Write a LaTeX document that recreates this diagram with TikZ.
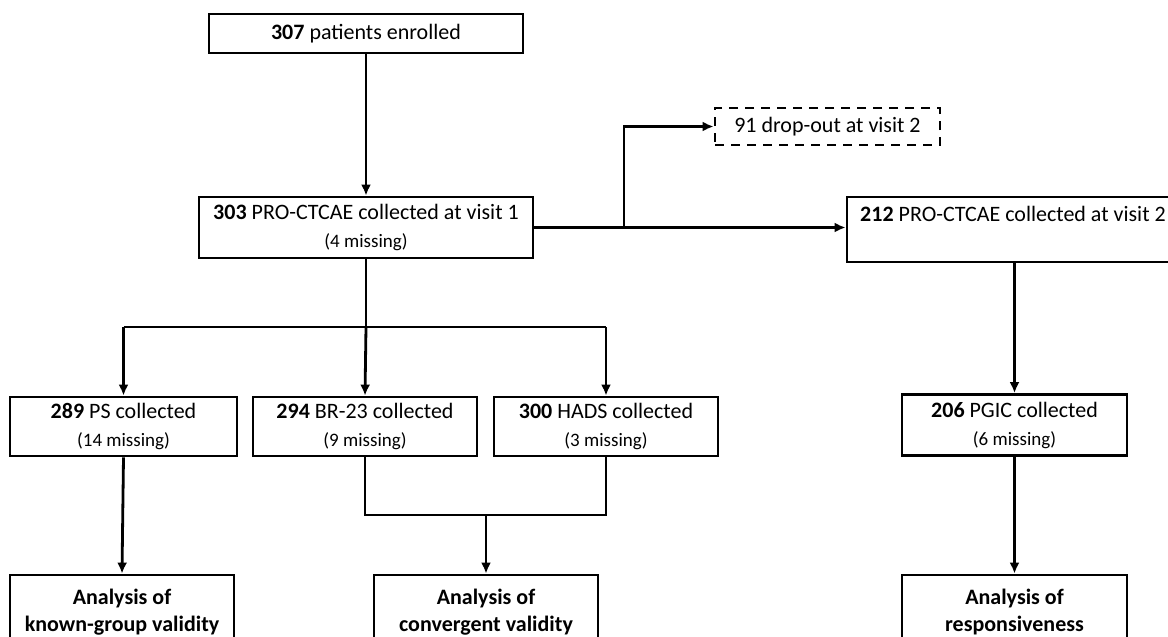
\documentclass[tikz,border=0pt]{standalone}
\usepackage{fontspec}
\setmainfont{Carlito}
\usetikzlibrary{arrows.meta}
\newcommand{\sm}[1]{{\fontsize{19}{28}\selectfont #1}}
\begin{document}
\begin{tikzpicture}[x=1pt,y=-1pt,
  box/.style={draw, line width=2.8pt, inner sep=0pt, align=center,
    font=\fontsize{22}{28}\selectfont},
  dbox/.style={box, dash pattern=on 9pt off 7pt},
  bbox/.style={box, font=\bfseries\fontsize{22}{27}\selectfont},
  conn/.style={line width=2.8pt},
  arr/.style={conn, -{Latex[length=11pt,width=10pt]}}]
\useasboundingbox (0,0) rectangle (1168,637);
\clip (0,0) rectangle (1168,637);
\fill[white] (0,0) rectangle (1168,637);

\node[box, minimum width=314pt, minimum height=39pt] (top) at (366,33.5) {\textbf{307} patients enrolled};
\node[box, minimum width=334pt, minimum height=61pt] (v1) at (366,227.5) {\textbf{303} PRO-CTCAE collected at visit 1\\\sm{(4 missing)}};
\node[box, minimum width=332pt, minimum height=65pt] (v2) at (1013,229.5) {\textbf{212} PRO-CTCAE collected at visit 2\\\sm{\phantom{(4 missing)}}};
\node[dbox, minimum width=225pt, minimum height=37pt] (drop) at (827.5,126.5) {91 drop-out at visit 2};

\node[box, minimum width=227pt, minimum height=59pt] (ps) at (123.5,426.5) {\textbf{289} PS collected\\\sm{(14 missing)}};
\node[box, minimum width=224pt, minimum height=59pt] (br) at (365,426.5) {\textbf{294} BR-23 collected\\\sm{(9 missing)}};
\node[box, minimum width=224pt, minimum height=59pt] (hads) at (606,426.5) {\textbf{300} HADS collected\\\sm{(3 missing)}};
\node[box, minimum width=225pt, minimum height=61pt] (pgic) at (1014.5,425) {\textbf{206} PGIC collected\\\sm{(6 missing)}};

\node[bbox, minimum width=224pt, minimum height=74pt] (an1) at (122,612) {Analysis of\\known-group validity};
\node[bbox, minimum width=224pt, minimum height=74pt] (an2) at (486,612) {Analysis of\\convergent validity};
\node[bbox, minimum width=225pt, minimum height=74pt] (an3) at (1014.5,612) {Analysis of\\responsiveness};

\coordinate (branch) at (624,228);
\coordinate (split) at (366,327);
\coordinate (join) at (486,515);

\draw[arr] (top) -- (v1);
\draw[arr] (v1.east) -- (v1.east -| v2.west);
\draw[arr] (branch) |- (drop.west);
\draw[conn] (v1.south) -- (split);
\draw[conn] (split -| ps.north) -- (split -| hads.north);
\draw[arr] (split -| ps.north) -- (ps.north);
\draw[arr] (split) -- (br.north);
\draw[arr] (split -| hads.north) -- (hads.north);
\draw[arr] (ps.south) -- (an1.north);
\draw[conn] (br.south) |- (join) -| (hads.south);
\draw[arr] (join) -- (an2.north);
\draw[arr] (v2.south -| pgic.north) -- (pgic.north);
\draw[arr] (pgic.south) -- (an3.north);
\end{tikzpicture}
\end{document}
